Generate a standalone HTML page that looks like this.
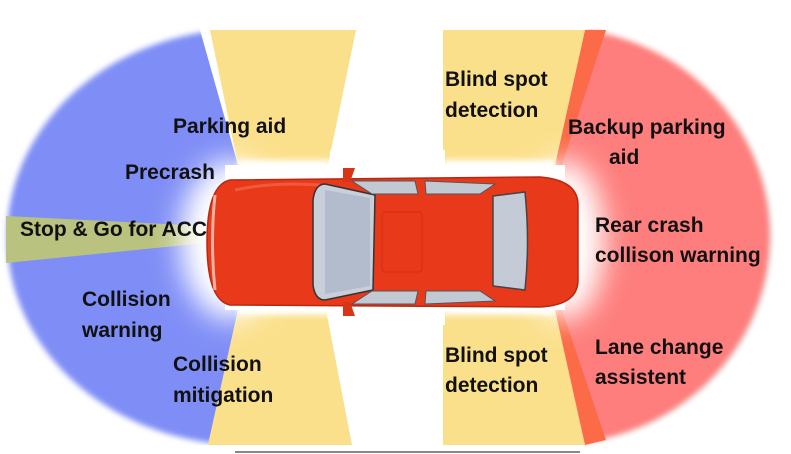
<!DOCTYPE html>
<html><head><meta charset="utf-8"><style>
html,body{margin:0;padding:0;background:#fff;width:791px;height:454px;overflow:hidden}
text{font-family:"Liberation Sans",Arial,sans-serif;font-weight:bold;font-size:21px;fill:#111}
</style></head><body>
<svg width="791" height="454" viewBox="0 0 791 454" xmlns="http://www.w3.org/2000/svg">
<defs>
<filter id="b4" x="-20%" y="-20%" width="140%" height="140%"><feGaussianBlur stdDeviation="3"/></filter>
<filter id="b12" x="-50%" y="-50%" width="200%" height="200%"><feGaussianBlur stdDeviation="14"/></filter>
<clipPath id="lc"><polygon points="0,0 200,0 200,30 238,165 238,310 208,445 0,454"/></clipPath>
<clipPath id="rc"><polygon points="585,30 791,0 791,454 585,454 555,310 555,165"/></clipPath>
</defs>
<g clip-path="url(#lc)">
<ellipse cx="245" cy="237" rx="238" ry="208" fill="#7f8ef6" filter="url(#b4)"/>
<polygon points="6,216 205,226 205,243 6,263" fill="#bac280"/>
</g>
<polygon points="210,30 356,30 328,165 238,165" fill="#fbe08c"/>
<polygon points="238,310 326,310 352,445 208,445" fill="#fbe08c"/>
<g clip-path="url(#rc)">
<ellipse cx="555" cy="236" rx="215" ry="208" fill="#fd7e7c" filter="url(#b4)"/>
</g>
<polygon points="585,30 606,30 562,165 555,165" fill="#fb6b48"/>
<polygon points="555,310 562,310 606,440 585,445" fill="#fb6b48"/>
<polygon points="443,30 585,30 555,165 443,165" fill="#fbe08c"/>
<polygon points="443,310 555,310 585,445 443,445" fill="#fbe08c"/>
<rect x="225" y="165" width="340" height="145" fill="#fff"/>
<ellipse cx="230" cy="240" rx="50" ry="80" fill="#fff" filter="url(#b12)"/>
<ellipse cx="565" cy="240" rx="40" ry="80" fill="#fff" filter="url(#b12)"/>
<rect x="330" y="150" width="115" height="175" fill="#fff"/>
<rect x="443" y="160" width="112" height="155" fill="#fff" filter="url(#b4)"/>
<rect x="238" y="160" width="92" height="155" fill="#fff" filter="url(#b4)"/>
<path d="M230,180 L540,177 Q578,180 578,205 L578,280 Q578,305 540,307 L230,305 Q207,300 207,242 Q207,185 230,180 Z" fill="#e8391a" stroke="#b82810" stroke-width="1.5"/>
<path d="M215,195 Q210,242 215,290" stroke="#f6b0a0" stroke-width="3" fill="none"/>
<path d="M235,190 Q270,182 320,185" stroke="#f05a3a" stroke-width="3" fill="none"/>
<path d="M343,168 L355,168 L350,182 L343,182 Z" fill="#d83518"/>
<path d="M343,302 L350,302 L355,316 L343,316 Z" fill="#d83518"/>
<path d="M325,184 Q315,184 313,200 L313,285 Q315,300 325,300 L373,290 L375,195 Z" fill="#c9cfd9" stroke="#333" stroke-width="1.5"/>
<path d="M325,190 L370,198 L370,286 L325,294 Z" fill="#a8b3c8" opacity="0.7"/>
<path d="M352,181 L415,181 L418,194 L372,194 Z" fill="#c3c9d3" stroke="#555"/>
<path d="M425,181 L495,184 L480,194 L426,194 Z" fill="#c3c9d3" stroke="#555"/>
<path d="M372,291 L418,291 L415,304 L352,304 Z" fill="#c3c9d3" stroke="#555"/>
<path d="M426,291 L480,291 L495,301 L425,304 Z" fill="#c3c9d3" stroke="#555"/>
<rect x="382" y="212" width="40" height="60" rx="3" fill="none" stroke="#d23010" stroke-width="1"/>
<path d="M493,196 L525,192 Q530,242 525,290 L493,286 Z" fill="#c4cad6" stroke="#444" stroke-width="1.5"/>
<line x1="235" y1="452" x2="580" y2="452" stroke="#888" stroke-width="2"/>
<text x="173" y="133">Parking aid</text>
<text x="125" y="179">Precrash</text>
<text x="20" y="236">Stop &amp; Go for ACC</text>
<text x="82" y="306">Collision</text>
<text x="82" y="337">warning</text>
<text x="173" y="371">Collision</text>
<text x="173" y="402">mitigation</text>
<text x="445" y="86">Blind spot</text>
<text x="445" y="117">detection</text>
<text x="568" y="134">Backup parking</text>
<text x="609" y="164">aid</text>
<text x="595" y="232">Rear crash</text>
<text x="595" y="262">collison warning</text>
<text x="595" y="354">Lane change</text>
<text x="595" y="384">assistent</text>
<text x="445" y="362">Blind spot</text>
<text x="445" y="392">detection</text>
</svg>
</body></html>
